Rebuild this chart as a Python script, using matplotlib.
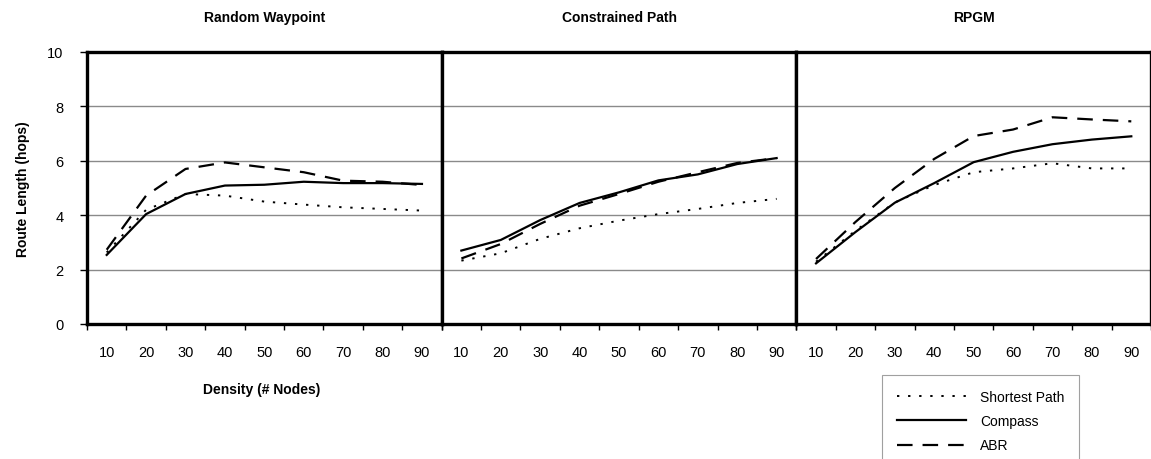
import matplotlib
matplotlib.use("Agg")
import matplotlib.pyplot as plt
from matplotlib.lines import Line2D
import numpy as np

plt.rcParams['font.family'] = ['Liberation Sans', 'DejaVu Sans']

densities = [10, 20, 30, 40, 50, 60, 70, 80, 90]
panel_titles = ["Random Waypoint", "Constrained Path", "RPGM"]
series_names = ["Shortest Path", "Compass", "ABR"]

shortest_rw = [2.63, 4.20, 4.78, 4.72, 4.50, 4.39, 4.29, 4.23, 4.17]
compass_rw = [2.54, 4.04, 4.78, 5.09, 5.12, 5.23, 5.18, 5.18, 5.15]
abr_rw = [2.73, 4.72, 5.70, 5.94, 5.76, 5.58, 5.27, 5.23, 5.11]

shortest_cp = [2.33, 2.60, 3.13, 3.52, 3.80, 4.04, 4.23, 4.45, 4.60]
compass_cp = [2.70, 3.09, 3.82, 4.45, 4.84, 5.28, 5.50, 5.88, 6.10]
abr_cp = [2.41, 2.94, 3.68, 4.35, 4.78, 5.23, 5.58, 5.92, 6.10]

shortest_rpgm = [2.29, 3.43, 4.47, 5.11, 5.58, 5.72, 5.91, 5.72, 5.72]
compass_rpgm = [2.23, 3.38, 4.46, 5.18, 5.95, 6.33, 6.61, 6.78, 6.90]
abr_rpgm = [2.39, 3.75, 5.00, 6.07, 6.91, 7.15, 7.60, 7.52, 7.45]

panels = [
    (shortest_rw, compass_rw, abr_rw),
    (shortest_cp, compass_cp, abr_cp),
    (shortest_rpgm, compass_rpgm, abr_rpgm),
]
y_ticks = [0, 2, 4, 6, 8, 10]

W, H = 1151, 460
fig = plt.figure(figsize=(W / 100, H / 100), dpi=100)

left_px, right_px = 87, 1151
top_px, bottom_px = 53, 325
pw = (right_px - left_px) / 3

styles = [
    dict(color='black', lw=1.4, linestyle=(0, (1.2, 4.5))),
    dict(color='black', lw=1.6, linestyle='-'),
    dict(color='black', lw=1.6, linestyle=(0, (7, 4.5))),
]

x = np.arange(len(densities))
for i, (data, title) in enumerate(zip(panels, panel_titles)):
    l = (left_px + i * pw) / W
    b = 1 - bottom_px / H
    ax = fig.add_axes([l, b, pw / W, (bottom_px - top_px) / H])
    for vals, st in zip(data, styles):
        ax.plot(x, vals, **st)
    ax.set_xlim(-0.5, len(densities) - 0.5)
    ax.set_ylim(0, 10)
    ax.set_yticks(y_ticks)
    for yv in y_ticks[1:-1]:
        ax.axhline(yv, color='#8a8a8a', lw=1.0, zorder=0)
    ax.set_xticks(x)
    ax.set_xticklabels([str(d) for d in densities], fontsize=10.5)
    ax.set_xticks(np.arange(-0.5, len(densities)), minor=True)
    ax.tick_params(axis='x', which='major', length=0, pad=15)
    ax.tick_params(axis='x', which='minor', length=4, width=1, direction='out')
    if i == 0:
        ax.tick_params(axis='y', which='major', length=5, width=1, pad=12, labelsize=10.5)
        ax.set_ylabel("Route Length (hops)", fontsize=10, fontweight='bold', labelpad=12)
    else:
        ax.tick_params(axis='y', which='both', length=0, labelleft=False)
    for sp in ax.spines.values():
        sp.set_linewidth(2.4)
        sp.set_color('black')
    ax.set_title(title, fontsize=10, fontweight='bold', pad=22)

fig.text(262 / W, 1 - 390 / H, "Density (# Nodes)", ha='center', va='center',
         fontsize=10, fontweight='bold')

handles = [Line2D([0], [0], **st) for st in styles]
leg = fig.legend(handles, series_names, loc='upper left',
                 bbox_to_anchor=(882 / W, 1 - 376 / H), fontsize=10,
                 frameon=True, fancybox=False, edgecolor='#888888',
                 handlelength=5.0, handletextpad=1.0, labelspacing=0.75,
                 borderpad=1.05, borderaxespad=0)
leg.get_frame().set_linewidth(0.8)

fig.savefig("out.png", dpi=100)
